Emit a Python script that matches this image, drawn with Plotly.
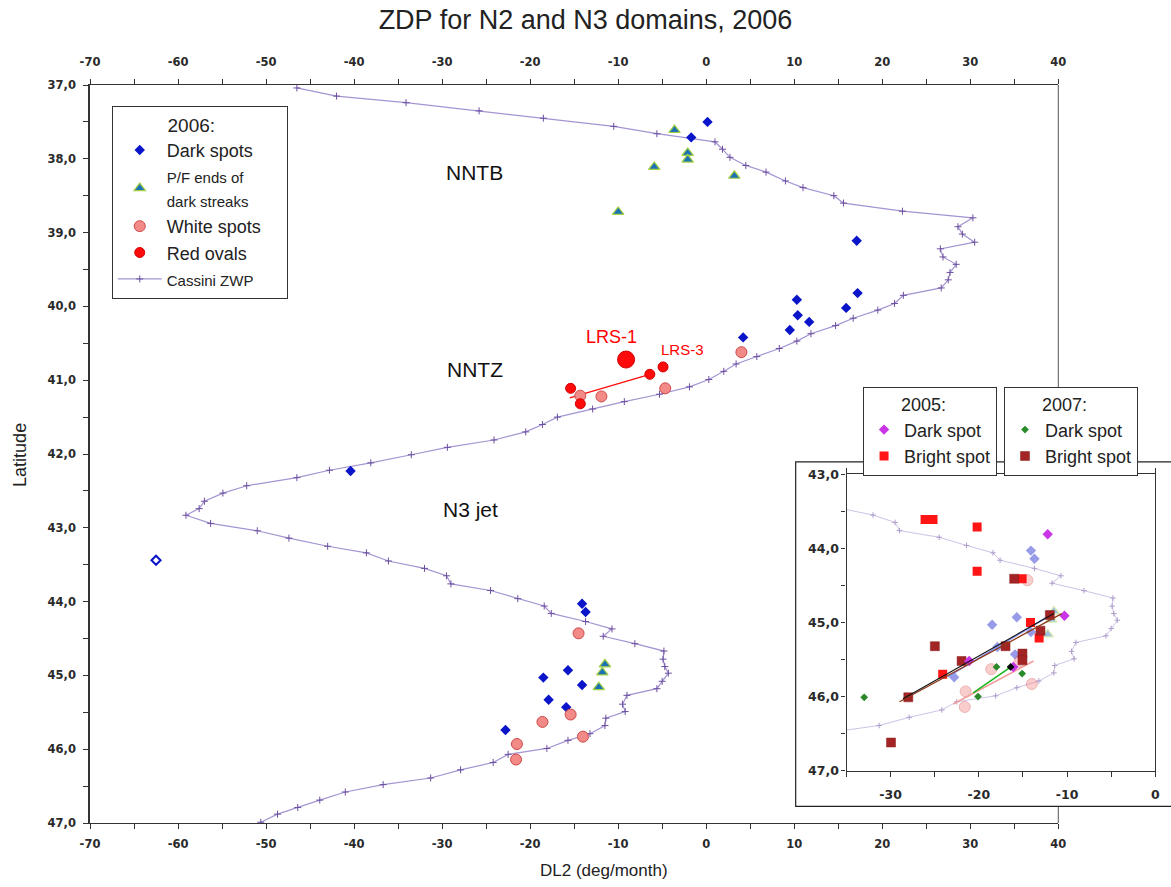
import plotly.graph_objects as go

# ---------------------------------------------------------------
# Cassini zonal wind profile, expressed as DL2 drift (deg/month)
# ---------------------------------------------------------------
zwp_dl2 = [-46.5, -42.0, -34.1, -25.8, -18.5, -10.5, -5.6, 1.0, 1.85, 2.7,
           4.5, 6.8, 9.0, 11.0, 14.5, 15.6, 22.3, 30.3, 28.6, 29.1,
           30.5, 26.6, 26.9, 28.4, 27.7, 27.5, 26.7, 22.4, 21.4, 19.5,
           16.7, 14.7, 11.9, 10.3, 8.3, 5.75, 3.4, 2.0, 0.3, -1.9,
           -5.3, -9.3, -12.9, -16.9, -18.6, -20.5, -24.1, -29.4, -33.5, -38.1,
           -42.8, -46.5, -52.2, -54.9, -57.0, -57.6, -59.1, -56.3, -51.0, -47.4,
           -43.0, -38.6, -36.1, -32.0, -29.5, -29.0, -24.5, -21.4, -18.4, -17.6,
           -13.7, -10.7, -11.7, -8.1, -4.8, -4.9, -4.7, -4.3, -5.0, -5.6,
           -9.0, -9.5, -9.2, -11.4, -11.5, -13.2, -15.7, -18.1, -22.5, -24.2,
           -27.9, -31.3, -36.7, -41.0, -43.9, -46.4, -48.7, -50.6]
zwp_lat = [37.04, 37.15, 37.24, 37.35, 37.45, 37.56, 37.66, 37.77, 37.87, 37.98,
           38.09, 38.18, 38.30, 38.39, 38.50, 38.60, 38.71, 38.80, 38.92, 39.02,
           39.13, 39.22, 39.33, 39.43, 39.54, 39.64, 39.75, 39.85, 39.96, 40.05,
           40.16, 40.26, 40.37, 40.47, 40.57, 40.68, 40.78, 40.88, 40.99, 41.09,
           41.19, 41.29, 41.39, 41.50, 41.60, 41.70, 41.81, 41.91, 42.01, 42.12,
           42.22, 42.32, 42.43, 42.53, 42.64, 42.74, 42.83, 42.94, 43.04, 43.14,
           43.25, 43.34, 43.45, 43.55, 43.65, 43.76, 43.85, 43.96, 44.06, 44.16,
           44.27, 44.37, 44.47, 44.57, 44.67, 44.78, 44.88, 44.97, 45.08, 45.18,
           45.27, 45.39, 45.49, 45.58, 45.68, 45.79, 45.88, 45.99, 46.07, 46.18,
           46.28, 46.39, 46.48, 46.58, 46.69, 46.79, 46.88, 46.99]

# ---------------------------------------------------------------
# 2006 features
# ---------------------------------------------------------------
dark_dl2 = [0.15, -1.7, 17.1, 17.2, 10.3, 10.4, 11.7, 15.9, 9.5, 4.2,
            -40.4, -14.1, -13.7, -15.7, -18.5, -14.1, -17.9, -15.9, -22.8]
dark_lat = [37.50, 37.71, 39.11, 39.82, 39.91, 40.12, 40.21, 40.02, 40.32, 40.42,
            42.23, 44.03, 44.14, 44.93, 45.03, 45.13, 45.33, 45.43, 45.74]

dark_uncertain_dl2 = [-62.5]
dark_uncertain_lat = [43.44]

streak_dl2 = [-3.6, -2.1, -2.1, -5.9, 3.2, -10.0, -11.5, -11.8, -12.2]
streak_lat = [37.61, 37.92, 38.01, 38.11, 38.23, 38.72, 44.85, 44.96, 45.16]

white_dl2 = [4.0, -14.3, -11.9, -4.65, -14.5, -15.4, -18.6, -14.0, -21.5, -21.6]
white_lat = [40.62, 41.21, 41.22, 41.11, 44.43, 45.53, 45.63, 45.83, 45.93, 46.14]

red_dl2 = [-15.4, -14.3, -6.4, -4.9]
red_lat = [41.11, 41.32, 40.92, 40.82]

lrs1_dl2 = [-9.1]
lrs1_lat = [40.72]

red_track_dl2 = [-15.5, -6.4]
red_track_lat = [41.24, 40.92]

# ---------------------------------------------------------------
# 2005 and 2007 features (N3 jet detail)
# ---------------------------------------------------------------
dark05_dl2 = [-12.2, -10.3, -21.1, -16.1]
dark05_lat = [43.81, 44.91, 45.52, 45.60]

bright05_dl2 = [-26.1, -25.2, -20.2, -20.2, -15.1, -14.15, -13.17, -24.1]
bright05_lat = [43.61, 43.61, 43.71, 44.31, 44.41, 45.00, 45.21, 45.70]

dark07_dl2 = [-33.0, -18.0, -20.1, -15.1]
dark07_lat = [46.01, 45.60, 46.00, 45.69]

bright07_dl2 = [-16.0, -11.96, -13.02, -16.98, -24.99, -15.06, -15.06, -21.96, -28.0, -29.96]
bright07_lat = [44.41, 44.90, 45.11, 45.32, 45.32, 45.42, 45.51, 45.52, 46.01, 46.62]

track_black_dl2 = [-28.6, -11.5]
track_black_lat = [46.03, 44.88]
track_brown_dl2 = [-29.0, -10.6]
track_brown_lat = [46.07, 44.88]
track_blue_dl2 = [-23.5, -12.3]
track_blue_lat = [45.73, 44.93]
track_pink_dl2 = [-22.9, -13.8]
track_pink_lat = [46.10, 45.52]
track_green_dl2 = [-20.65, -16.12]
track_green_lat = [45.95, 45.58]
track_end_dl2 = [-16.4]
track_end_lat = [45.60]

# ---------------------------------------------------------------
# Axis ticks
# ---------------------------------------------------------------
x_tick_vals = [-70, -60, -50, -40, -30, -20, -10, 0, 10, 20, 30, 40]
x_tick_text = ["-70", "-60", "-50", "-40", "-30", "-20", "-10", "0", "10", "20", "30", "40"]
y_tick_vals = [37, 38, 39, 40, 41, 42, 43, 44, 45, 46, 47]
y_tick_text = ["37,0", "38,0", "39,0", "40,0", "41,0", "42,0", "43,0", "44,0", "45,0", "46,0", "47,0"]
inset_x_tick_vals = [-30, -20, -10, 0]
inset_x_tick_text = ["-30", "-20", "-10", "0"]
inset_y_tick_vals = [43, 44, 45, 46, 47]
inset_y_tick_text = ["43,0", "44,0", "45,0", "46,0", "47,0"]

# ---------------------------------------------------------------
# Styles
# ---------------------------------------------------------------
BLUE = "#0A14C8"
TRI_FILL = "#1C73B4"
TRI_EDGE = "#A6CF45"
WHITE_FILL = "#F28A88"
WHITE_EDGE = "#D04848"
RED = "#FF0A0A"
ZWP_LINE = "#A494D2"
ZWP_MARK = "#6C4FA0"
TEXT_FONT = "Liberation Sans, Arial, sans-serif"
TICK_FONT = dict(family="DejaVu Sans, sans-serif", size=11.5, color="#2a2a2a", weight="bold")
AX = "#333"
FADE = 0.42
NB = "\u00a0"

fig = go.Figure()

# --- main panel -------------------------------------------------
# The drift track sits on the base x axis; everything else uses the
# top-side axis (same range) so that it is drawn above the track.
fig.add_trace(go.Scatter(
    x=red_track_dl2, y=red_track_lat, mode="lines", line=dict(color=RED, width=1.2),
    showlegend=False, xaxis="x", yaxis="y"))

fig.add_trace(go.Scatter(
    x=zwp_dl2, y=zwp_lat, mode="lines+markers",
    name='<span style="font-size:15px">Cassini ZWP</span>',
    line=dict(color=ZWP_LINE, width=1.2),
    marker=dict(symbol="cross-thin", size=5, line=dict(color=ZWP_MARK, width=1)),
    legendrank=5, xaxis="x3", yaxis="y"))

fig.add_trace(go.Scatter(
    x=dark_dl2, y=dark_lat, mode="markers", name="Dark spots",
    marker=dict(symbol="diamond", size=8, color=BLUE, line=dict(width=0)),
    legendrank=1, xaxis="x3", yaxis="y"))

fig.add_trace(go.Scatter(
    x=dark_uncertain_dl2, y=dark_uncertain_lat, mode="markers", showlegend=False,
    marker=dict(symbol="diamond", size=7, color="white", line=dict(color=BLUE, width=2)),
    xaxis="x3", yaxis="y"))

fig.add_trace(go.Scatter(
    x=streak_dl2, y=streak_lat, mode="markers",
    name='<span style="font-size:15px">P/F ends of</span><br><span style="font-size:15px">dark streaks</span>',
    marker=dict(symbol="triangle-up", size=10, color=TRI_FILL, line=dict(color=TRI_EDGE, width=1.2)),
    legendrank=2, xaxis="x3", yaxis="y"))

fig.add_trace(go.Scatter(
    x=white_dl2, y=white_lat, mode="markers", name="White spots" + NB * 4,
    marker=dict(symbol="circle", size=11, color=WHITE_FILL, line=dict(color=WHITE_EDGE, width=1)),
    legendrank=3, xaxis="x3", yaxis="y"))

fig.add_trace(go.Scatter(
    x=red_dl2, y=red_lat, mode="markers", name="Red ovals",
    marker=dict(symbol="circle", size=10, color=RED, line=dict(color="#D00000", width=1)),
    legendrank=4, xaxis="x3", yaxis="y"))

fig.add_trace(go.Scatter(
    x=lrs1_dl2, y=lrs1_lat, mode="markers", showlegend=False,
    marker=dict(symbol="circle", size=17, color=RED, line=dict(color="#D00000", width=1)),
    xaxis="x3", yaxis="y"))

# --- inset: N3 jet, 2005-2007 ------------------------------------
fig.add_trace(go.Scatter(
    x=zwp_dl2, y=zwp_lat, mode="lines+markers", showlegend=False, opacity=0.55,
    line=dict(color=ZWP_LINE, width=1),
    marker=dict(symbol="cross-thin", size=4, line=dict(color=ZWP_MARK, width=1)),
    xaxis="x2", yaxis="y2"))

fig.add_trace(go.Scatter(
    x=dark_dl2, y=dark_lat, mode="markers", showlegend=False, opacity=FADE,
    marker=dict(symbol="diamond", size=8, color=BLUE),
    xaxis="x2", yaxis="y2"))
fig.add_trace(go.Scatter(
    x=streak_dl2, y=streak_lat, mode="markers", showlegend=False, opacity=FADE,
    marker=dict(symbol="triangle-up", size=10, color=TRI_FILL, line=dict(color=TRI_EDGE, width=1.2)),
    xaxis="x2", yaxis="y2"))
fig.add_trace(go.Scatter(
    x=white_dl2, y=white_lat, mode="markers", showlegend=False, opacity=FADE,
    marker=dict(symbol="circle", size=11, color=WHITE_FILL, line=dict(color=WHITE_EDGE, width=1)),
    xaxis="x2", yaxis="y2"))

fig.add_trace(go.Scatter(
    x=track_blue_dl2, y=track_blue_lat, mode="lines", showlegend=False,
    line=dict(color="#8296F2", width=1.6), xaxis="x2", yaxis="y2"))
fig.add_trace(go.Scatter(
    x=track_pink_dl2, y=track_pink_lat, mode="lines", showlegend=False,
    line=dict(color="#F59C9C", width=1.6), xaxis="x2", yaxis="y2"))

fig.add_trace(go.Scatter(
    x=bright05_dl2, y=bright05_lat, mode="markers", name="Bright spot", legend="legend2",
    legendrank=2, marker=dict(symbol="square", size=9, color="#FF1515"),
    xaxis="x2", yaxis="y2"))
fig.add_trace(go.Scatter(
    x=bright07_dl2, y=bright07_lat, mode="markers", name="Bright spot", legend="legend3",
    legendrank=2, marker=dict(symbol="square", size=9, color="#A32424", line=dict(color="#8A1C1C", width=0.5)),
    xaxis="x2", yaxis="y2"))
fig.add_trace(go.Scatter(
    x=dark05_dl2, y=dark05_lat, mode="markers", name="Dark spot", legend="legend2",
    legendrank=1, marker=dict(symbol="diamond", size=8, color="#C934E6"),
    xaxis="x2", yaxis="y2"))
fig.add_trace(go.Scatter(
    x=dark07_dl2, y=dark07_lat, mode="markers", name="Dark spot", legend="legend3",
    legendrank=1, marker=dict(symbol="diamond", size=6, color="#2A8A2A"),
    xaxis="x2", yaxis="y2"))

fig.add_trace(go.Scatter(
    x=track_brown_dl2, y=track_brown_lat, mode="lines", showlegend=False,
    line=dict(color="#8E3A18", width=1.3), xaxis="x2", yaxis="y2"))
fig.add_trace(go.Scatter(
    x=track_black_dl2, y=track_black_lat, mode="lines", showlegend=False,
    line=dict(color="#111", width=1.1), xaxis="x2", yaxis="y2"))
fig.add_trace(go.Scatter(
    x=track_green_dl2, y=track_green_lat, mode="lines", showlegend=False,
    line=dict(color="#19B419", width=1.5), xaxis="x2", yaxis="y2"))
fig.add_trace(go.Scatter(
    x=track_end_dl2, y=track_end_lat, mode="markers", showlegend=False,
    marker=dict(symbol="diamond", size=6, color="#000"), xaxis="x2", yaxis="y2"))

# ---------------------------------------------------------------
# Axes
# ---------------------------------------------------------------
MAIN_X_DOMAIN = [0.0, 0.9041]
common_x = dict(
    range=[-70, 40], tickmode="array", tickvals=x_tick_vals, ticktext=x_tick_text,
    ticks="outside", ticklen=5, tickcolor=AX, tickwidth=1,
    showline=True, linecolor=AX, linewidth=1.3, showgrid=False, zeroline=False,
    minor=dict(tickmode="linear", tick0=-70, dtick=5, ticks="outside", ticklen=5, tickcolor=AX),
    tickfont=TICK_FONT, fixedrange=True, automargin=False)

fig.update_layout(
    template="none",
    xaxis=dict(common_x, domain=MAIN_X_DOMAIN, anchor="y", side="bottom", ticklabelstandoff=5),
    xaxis3=dict(common_x, overlaying="x", anchor="y", side="top", ticklabelstandoff=8),
    yaxis=dict(
        domain=[0, 1], range=[47, 37], anchor="x", tickmode="array",
        tickvals=y_tick_vals, ticktext=y_tick_text,
        ticks="outside", ticklen=5, tickcolor=AX, showline=True, linecolor=AX, linewidth=1.6,
        showgrid=False, zeroline=False, tickfont=TICK_FONT, ticklabelstandoff=5,
        minor=dict(tickmode="linear", tick0=37, dtick=0.5, ticks="outside", ticklen=5, tickcolor=AX),
        fixedrange=True, automargin=False),
    xaxis2=dict(
        domain=[0.7064, 0.9947], range=[-35, 0], anchor="y2", tickmode="array",
        tickvals=inset_x_tick_vals, ticktext=inset_x_tick_text,
        ticks="outside", ticklen=5, tickcolor=AX, showline=True, linecolor=AX, linewidth=1.3,
        mirror="ticks", showgrid=False, zeroline=False, tickfont=dict(TICK_FONT, size=12.5),
        ticklabelstandoff=7,
        minor=dict(tickmode="linear", tick0=-35, dtick=5, ticks="outside", ticklen=5, tickcolor=AX),
        fixedrange=True, automargin=False),
    yaxis2=dict(
        domain=[0.0709, 0.4725], range=[47, 43], anchor="x2", tickmode="array",
        tickvals=inset_y_tick_vals, ticktext=inset_y_tick_text,
        ticks="outside", ticklen=4, tickcolor=AX, showline=True, linecolor=AX, linewidth=1.3,
        mirror=True, showgrid=False, zeroline=False, tickfont=dict(TICK_FONT, size=12.5),
        minor=dict(tickmode="linear", tick0=43, dtick=0.5, ticks="outside", ticklen=4, tickcolor=AX),
        fixedrange=True, automargin=False),
)

# ---------------------------------------------------------------
# Frame pieces and inset background
# ---------------------------------------------------------------
fig.add_shape(type="line", xref="paper", yref="paper", x0=0.9041, x1=0.9041, y0=0, y1=1,
              line=dict(color="#555", width=1), layer="below")
fig.add_shape(type="rect", xref="paper", yref="paper", x0=0.6589, x1=1.03, y0=0.0224, y1=0.4892,
              fillcolor="white", line=dict(color="#222", width=1.2), layer="below")

# ---------------------------------------------------------------
# Labels
# ---------------------------------------------------------------
region_labels = [("NNTB", -26.3, 38.18), ("NNTZ", -26.3, 40.85), ("N3 jet", -26.8, 42.75)]
for txt, lx, ly in region_labels:
    fig.add_annotation(x=lx, y=ly, xref="x", yref="y", text=txt, showarrow=False,
                       xanchor="center", yanchor="middle",
                       font=dict(family=TEXT_FONT, size=21, color="#111"))

fig.add_annotation(x=-10.8, y=40.41, xref="x", yref="y", text="LRS-1", showarrow=False,
                   xanchor="center", yanchor="middle",
                   font=dict(family=TEXT_FONT, size=18, color="#FF0000"))
fig.add_annotation(x=-2.7, y=40.59, xref="x", yref="y", text="LRS-3", showarrow=False,
                   xanchor="center", yanchor="middle",
                   font=dict(family=TEXT_FONT, size=15, color="#FF0000"))

fig.add_annotation(x=0.48, y=-0.065, xref="paper", yref="paper", text="DL2 (deg/month)",
                   showarrow=False, xanchor="center", yanchor="middle",
                   font=dict(family=TEXT_FONT, size=17, color="#222"))
fig.add_annotation(x=-0.0654, y=0.4987, xref="paper", yref="paper", text="Latitude",
                   textangle=-90, showarrow=False, xanchor="center", yanchor="middle",
                   font=dict(family=TEXT_FONT, size=18, color="#222"))

legend_common = dict(
    xanchor="left", yanchor="top", bgcolor="white", bordercolor="#333", borderwidth=1,
    font=dict(family=TEXT_FONT, size=18, color="#222"), tracegroupgap=0,
    itemclick=False, itemdoubleclick=False, traceorder="normal", orientation="v")

fig.update_layout(
    width=1171, height=887, autosize=False,
    margin=dict(l=90, r=10, t=85, b=64, pad=0),
    paper_bgcolor="white", plot_bgcolor="white",
    font=dict(family=TEXT_FONT, size=14, color="#222"),
    title=dict(text="ZDP for N2 and N3 domains, 2006", x=0.5, xref="container", xanchor="center",
               y=1 - 20 / 887, yref="container", yanchor="middle",
               font=dict(family=TEXT_FONT, size=27, color="#222")),
    showlegend=True,
    legend=dict(legend_common, x=0.0203, y=0.9715, itemwidth=44,
                title=dict(text=NB * 10 + "2006:", font=dict(family=TEXT_FONT, size=19))),
    legend2=dict(legend_common, x=0.7218, y=0.5908, itemwidth=30,
                 title=dict(text=NB * 7 + "2005:", font=dict(family=TEXT_FONT, size=18))),
    legend3=dict(legend_common, x=0.8534, y=0.5908, itemwidth=30,
                 title=dict(text=NB * 7 + "2007:", font=dict(family=TEXT_FONT, size=18))),
)

fig.write_html("out.html")
